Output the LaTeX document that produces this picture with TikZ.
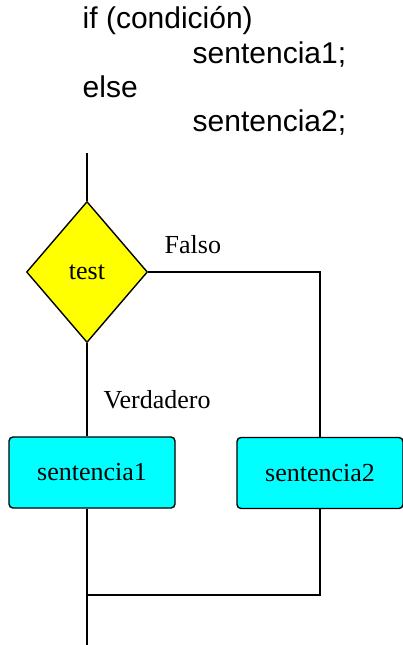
\documentclass[tikz,border=0pt]{standalone}
\usepackage{fontspec}
\setmainfont{Liberation Serif}
\newfontfamily\codefont{Liberation Sans}
\usetikzlibrary{shapes.geometric}
\definecolor{testyellow}{RGB}{255,255,0}
\definecolor{boxcyan}{RGB}{0,255,255}

\begin{document}
\begin{tikzpicture}[x=1pt,y=-1pt,line width=1.4pt,
	decision/.style={diamond, draw, fill=testyellow, minimum width=121pt, minimum height=141pt, inner sep=0pt, font=\fontsize{26}{30}\selectfont},
	process/.style={rectangle, draw, fill=boxcyan, rounded corners=4pt, minimum width=166pt, minimum height=71pt, font=\fontsize{26}{30}\selectfont},
	codeline/.style={anchor=base west, inner sep=0pt, font=\codefont\fontsize{30}{34}\selectfont},
	lbl/.style={anchor=base west, inner sep=0pt, font=\fontsize{26}{30}\selectfont}]
			\useasboundingbox (0,0) rectangle (402,645);

			% code
			\node[codeline] (lineif) at (82,28.5) {if (condición)};
			\node[codeline] (linethen) at (192,63) {sentencia1;};
			\node[codeline] (lineelse) at (82,97.5) {else};
			\node[codeline] (lineother) at (192,131.5) {sentencia2;};

			% flow chart
			\coordinate (start) at (87,153);
			\node[decision] (test) at (87,272) {test};
			\node[process] (s1) at (92,472.5) {sentencia1};
			\node[process] (s2) at (320,473) {sentencia2};
			\coordinate (join) at (87,595);
			\coordinate (end) at (87,645);

			\draw (start) -- (test.north);
			\draw (test.south) -- (test.south |- s1.north);
			\draw (test.east) -| (s2.north);
			\draw (test.south |- s1.south) -- (end);
			\draw (s2.south) |- (join);

			% branch labels
			\node[lbl] (falso) at (164,253) {Falso};
			\node[lbl] (verdadero) at (103,408) {Verdadero};
		\end{tikzpicture}
\end{document}
